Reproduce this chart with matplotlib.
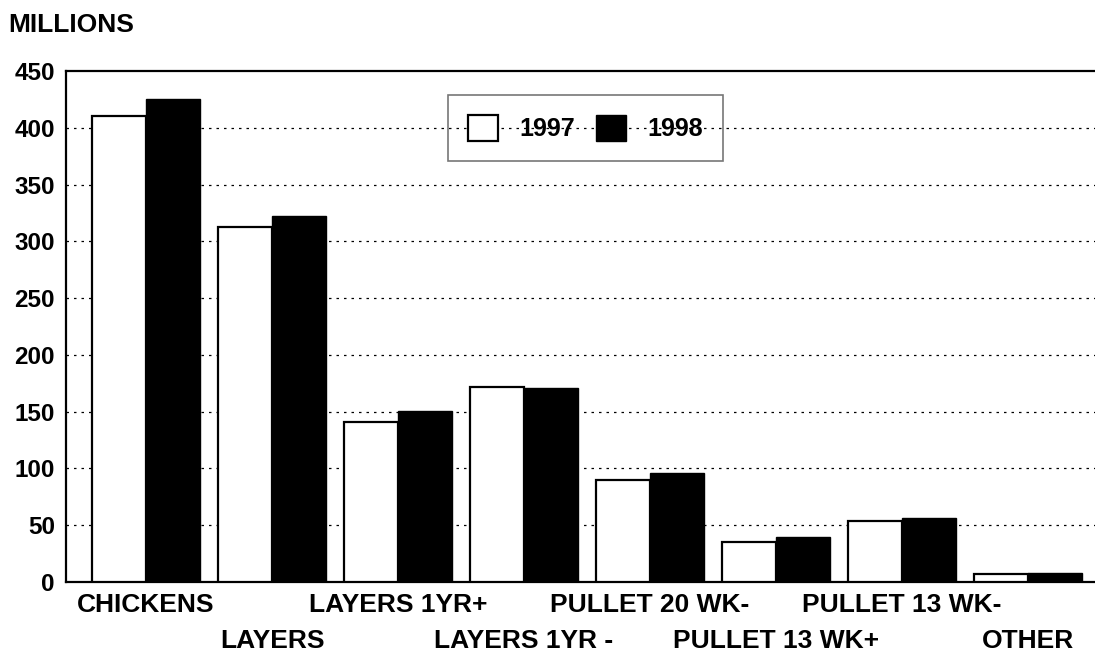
import matplotlib.pyplot as plt
import numpy as np

categories = ["CHICKENS", "LAYERS", "LAYERS 1YR+", "LAYERS 1YR -",
              "PULLET 20 WK-", "PULLET 13 WK+", "PULLET 13 WK-", "OTHER"]
vals_1997 = [410, 313, 141, 172, 90, 35, 54, 7]
vals_1998 = [425, 322, 151, 171, 96, 40, 56, 8]
yticks = [0, 50, 100, 150, 200, 250, 300, 350, 400, 450]

plt.rcParams["font.family"] = ["Liberation Sans", "DejaVu Sans"]
plt.rcParams["font.weight"] = "bold"
FS = 18

fig = plt.figure(figsize=(10.95, 6.54), dpi=100)
ax = fig.add_axes([66 / 1095, 1 - 582 / 654, 1 - 66 / 1095, (582 - 71) / 654])

x = np.arange(len(categories))
w = 0.4286
ax.bar(x - w / 2, vals_1997, w, color="white", edgecolor="black", lw=1.6,
       label="1997", zorder=3)
ax.bar(x + w / 2, vals_1998, w, color="black", edgecolor="black", lw=1.0,
       label="1998", zorder=3)

ax.set_xlim(-0.635, 7.532)
ax.set_ylim(0, 450)
ax.set_yticks(yticks)
ax.set_yticklabels([str(t) for t in yticks], fontsize=17.5)
for t in yticks[1:-1]:
    ax.axhline(t, color="black", lw=0.9, ls=(0, (2, 4)), zorder=1)

# staggered category labels: even on first row, odd on second row
ax.set_xticks(x[::2])
ax.set_xticklabels(categories[::2], fontsize=19)
ax.set_xticks(x[1::2], minor=True)
ax.set_xticklabels(categories[1::2], minor=True, fontsize=19)
ax.tick_params(axis="x", which="major", length=0, pad=8)
ax.tick_params(axis="x", which="minor", length=0, pad=34)
ax.tick_params(axis="y", length=0, pad=8)

for s in ["left", "top", "bottom"]:
    ax.spines[s].set_linewidth(1.6)
ax.spines["right"].set_visible(False)

leg = ax.legend(loc="upper left", bbox_to_anchor=(448 / 1095, 1 - 95 / 654),
                bbox_transform=fig.transFigure, ncol=2, fontsize=FS,
                handlelength=1.2, handleheight=1.2, handletextpad=0.85,
                columnspacing=0.85, borderpad=0.8, borderaxespad=0,
                fancybox=False, framealpha=1)
leg.get_frame().set_facecolor("none")
leg.get_frame().set_edgecolor("#777777")
leg.get_frame().set_linewidth(1.2)

fig.text(8 / 1095, 1 - 32 / 654, "MILLIONS", fontsize=19, va="baseline", ha="left")

fig.savefig("out.png", dpi=100)
